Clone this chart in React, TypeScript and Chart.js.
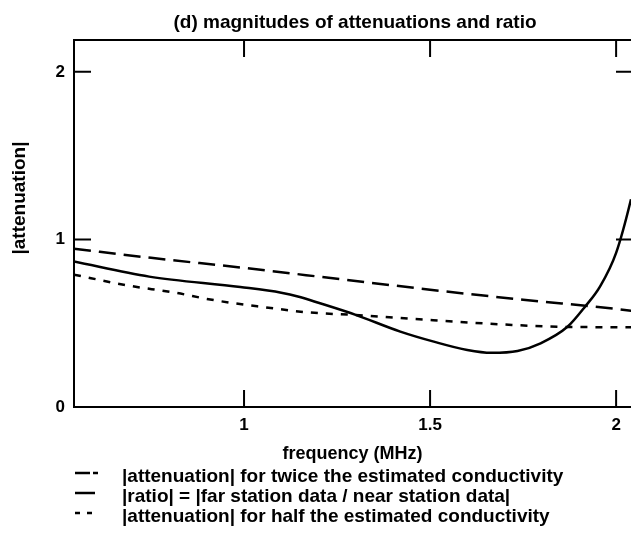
import { useEffect, useRef } from "react";
import { Chart, registerables } from "chart.js";

Chart.register(...registerables);

// ---- Text ----
const chartTitle = "(d) magnitudes of attenuations and ratio";
const xAxisTitle = "frequency (MHz)";
const yAxisTitle = "|attenuation|";
const legendLabels = [
  "|attenuation| for twice the estimated conductivity",
  "|ratio| = |far station data / near station data|",
  "|attenuation| for half the estimated conductivity",
];

// ---- Axes ----
const xTickValues = [1, 1.5, 2];
const xTickLabels = ["1", "1.5", "2"];
const yTickValues = [0, 1, 2];
const yTickLabels = ["0", "1", "2"];
const xMin = 0.543;
const xMax = 2.04;
const yMin = 0;
const yMax = 2.19;

// ---- Series: |attenuation| for twice the estimated conductivity ----
const twiceFreq = [0.543, 0.75, 1.0, 1.25, 1.5, 1.75, 2.0, 2.06];
const twiceValues = [0.945, 0.89, 0.83, 0.765, 0.7, 0.64, 0.585, 0.568];

// ---- Series: |ratio| ----
const ratioFreq = [0.543, 0.745, 0.99, 1.1, 1.15, 1.2, 1.3, 1.42, 1.51, 1.6, 1.665, 1.735, 1.797, 1.87, 1.917, 1.957, 2.0, 2.04, 2.07];
const ratioValues = [0.868, 0.778, 0.716, 0.682, 0.656, 0.622, 0.55, 0.45, 0.39, 0.34, 0.323, 0.334, 0.38, 0.48, 0.6, 0.72, 0.92, 1.24, 1.55];

// ---- Series: |attenuation| for half the estimated conductivity ----
const halfFreq = [0.543, 0.68, 0.82, 0.9, 0.97, 1.05, 1.17, 1.3, 1.5, 1.72, 1.86, 2.06];
const halfValues = [0.79, 0.728, 0.68, 0.645, 0.62, 0.597, 0.565, 0.549, 0.519, 0.49, 0.478, 0.476];

const FONT = '"Liberation Sans", Arial, Helvetica, sans-serif';

const toPoints = (xs: number[], ys: number[]) => xs.map((x, i) => ({ x, y: ys[i] }));

function drawText(
  ctx: CanvasRenderingContext2D,
  text: string,
  x: number,
  y: number,
  size: number,
  align: CanvasTextAlign
) {
  ctx.font = `bold ${size}px ${FONT}`;
  ctx.textAlign = align;
  ctx.textBaseline = "alphabetic";
  ctx.fillStyle = "#000";
  ctx.fillText(text, x, y);
}

const framePlugin = {
  id: "framePlugin",
  afterDatasetsDraw(chart: any) {
    const { ctx, chartArea: a, scales } = chart;
    const xs = scales.x;
    const ys = scales.y;
    const tl = 17;
    ctx.save();
    ctx.strokeStyle = "#000";
    ctx.lineWidth = 2;
    ctx.setLineDash([]);
    ctx.beginPath();
    ctx.moveTo(a.left - 1, a.top);
    ctx.lineTo(a.right + 2, a.top);
    for (const v of xTickValues) {
      const px = xs.getPixelForValue(v);
      ctx.moveTo(px, a.bottom);
      ctx.lineTo(px, a.bottom - tl);
      ctx.moveTo(px, a.top);
      ctx.lineTo(px, a.top + tl);
    }
    for (const v of yTickValues) {
      if (v === yMin) continue;
      const py = ys.getPixelForValue(v);
      ctx.moveTo(a.left, py);
      ctx.lineTo(a.left + tl, py);
      ctx.moveTo(a.right + 2, py);
      ctx.lineTo(a.right + 2 - tl, py);
    }
    ctx.stroke();
    ctx.restore();
  },
  afterDraw(chart: any) {
    const { ctx, chartArea: a } = chart;
    ctx.save();
    // title
    drawText(ctx, chartTitle, 355, 28, 19, "center");
    // x title
    drawText(ctx, xAxisTitle, (a.left + a.right) / 2, 459, 18, "center");
    // y title
    ctx.save();
    ctx.translate(25, 198);
    ctx.rotate(-Math.PI / 2);
    drawText(ctx, yAxisTitle, 0, 0, 19, "center");
    ctx.restore();
    // legend
    const rows = [482, 502, 522];
    const dashes = [[15, 3], [], [5, 7]];
    const lens = [23, 20, 18];
    ctx.strokeStyle = "#000";
    ctx.lineWidth = 2.5;
    rows.forEach((by, i) => {
      ctx.setLineDash(dashes[i]);
      ctx.beginPath();
      ctx.moveTo(75, by - 9);
      ctx.lineTo(75 + lens[i], by - 9);
      ctx.stroke();
      ctx.setLineDash([]);
      drawText(ctx, legendLabels[i], 122, by, 19, "left");
    });
    ctx.restore();
  },
};

export default function App() {
  const ref = useRef<HTMLCanvasElement>(null);
  useEffect(() => {
    document.body.style.margin = "0";
    const tickFont = { family: FONT, size: 17, weight: "bold" };
    const chart = new Chart(ref.current as HTMLCanvasElement, {
      type: "line",
      data: {
        datasets: [
          {
            label: legendLabels[0],
            data: toPoints(twiceFreq, twiceValues),
            borderColor: "#000",
            borderWidth: 2.5,
            borderDash: [17, 8],
            pointRadius: 0,
            cubicInterpolationMode: "monotone",
            fill: false,
          },
          {
            label: legendLabels[1],
            data: toPoints(ratioFreq, ratioValues),
            borderColor: "#000",
            borderWidth: 2.5,
            pointRadius: 0,
            cubicInterpolationMode: "monotone",
            fill: false,
          },
          {
            label: legendLabels[2],
            data: toPoints(halfFreq, halfValues),
            borderColor: "#000",
            borderWidth: 2.5,
            borderDash: [7, 8],
            pointRadius: 0,
            cubicInterpolationMode: "monotone",
            fill: false,
          },
        ],
      },
      options: {
        animation: false,
        responsive: false,
        devicePixelRatio: 1,
        layout: { padding: { left: 0, top: 40, right: 0, bottom: 0 } },
        plugins: {
          legend: { display: false },
          title: { display: false },
          tooltip: { enabled: false },
        },
        scales: {
          x: {
            type: "linear",
            min: xMin,
            max: xMax,
            grid: { display: false, drawTicks: false },
            border: { display: true, color: "#000", width: 2 },
            ticks: {
              color: "#000",
              font: tickFont,
              padding: 8,
              maxRotation: 0,
              callback: (v: number) => {
                const i = xTickValues.indexOf(v);
                return i >= 0 ? xTickLabels[i] : "";
              },
            },
            afterBuildTicks: (s: any) => {
              s.ticks = xTickValues.map((v) => ({ value: v }));
            },
            afterFit: (s: any) => {
              s.height = 131;
              s.paddingLeft = 0;
              s.paddingRight = 0;
            },
          },
          y: {
            type: "linear",
            min: yMin,
            max: yMax,
            grid: { display: false, drawTicks: false },
            border: { display: true, color: "#000", width: 2 },
            ticks: {
              color: "#000",
              font: tickFont,
              padding: 9,
              callback: (v: number) => {
                const i = yTickValues.indexOf(v);
                return i >= 0 ? yTickLabels[i] : "";
              },
            },
            afterBuildTicks: (s: any) => {
              s.ticks = yTickValues.map((v) => ({ value: v }));
            },
            afterFit: (s: any) => {
              s.width = 74;
              s.paddingTop = 0;
              s.paddingBottom = 0;
            },
          },
        },
      },
      plugins: [framePlugin],
    } as any);
    return () => chart.destroy();
  }, []);
  return (
    <div style={{ width: 631, height: 538, background: "#fff" }}>
      <canvas ref={ref} width={631} height={538} style={{ display: "block" }} />
    </div>
  );
}
